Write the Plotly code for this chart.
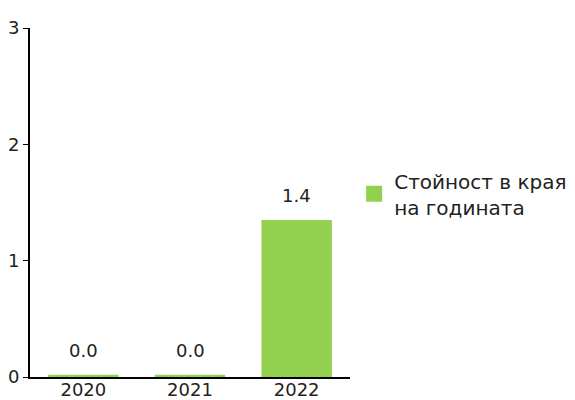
import plotly.graph_objects as go

years = ["2020", "2021", "2022"]
values = [0.02, 0.02, 1.35]
series_name = "Стойност в края<br>на годината"
bar_color = "#92d050"

fig = go.Figure()
fig.add_trace(go.Bar(
    x=years, y=values, name=series_name, showlegend=False,
    marker=dict(color=bar_color, line=dict(width=0)),
    cliponaxis=False, width=0.66,
))
# legend entry with a bigger square swatch
fig.add_trace(go.Scatter(
    x=[years[0]], y=[None], mode="markers", name=series_name,
    marker=dict(symbol="square", size=16, color=bar_color),
))

# value labels sit a bit higher above the bars than textposition="outside" allows
# (annotation x uses the category index, "2020" would be read as a number)
for i, v in enumerate(values):
    fig.add_annotation(x=i, y=v, text=f"{v:.1f}", showarrow=False,
                       yanchor="bottom", yshift=12,
                       font=dict(size=18, color="#222222"))

# page body has an 8px margin, so the figure is a bit smaller than the window
fig.update_layout(
    width=567, height=392,
    margin=dict(l=22, r=225, t=20, b=23),
    paper_bgcolor="white", plot_bgcolor="white",
    font=dict(family="DejaVu Sans", size=18, color="#222222"),
    showlegend=True,
    legend=dict(xref="container", x=0.995, xanchor="right",
                y=0.618, yanchor="top",
                font=dict(size=20), itemwidth=30),
)
fig.update_xaxes(type="category", showline=True, linecolor="black", linewidth=2,
                 ticks="", showgrid=False, automargin=False,
                 ticklabelstandoff=-5)
fig.update_yaxes(range=[0, 3], tickvals=[0, 1, 2, 3], showline=True,
                 linecolor="black", linewidth=2, ticks="outside", ticklen=5,
                 tickcolor="black", tickwidth=1, showgrid=False, zeroline=False,
                 automargin=False)

fig.write_html("out.html")
